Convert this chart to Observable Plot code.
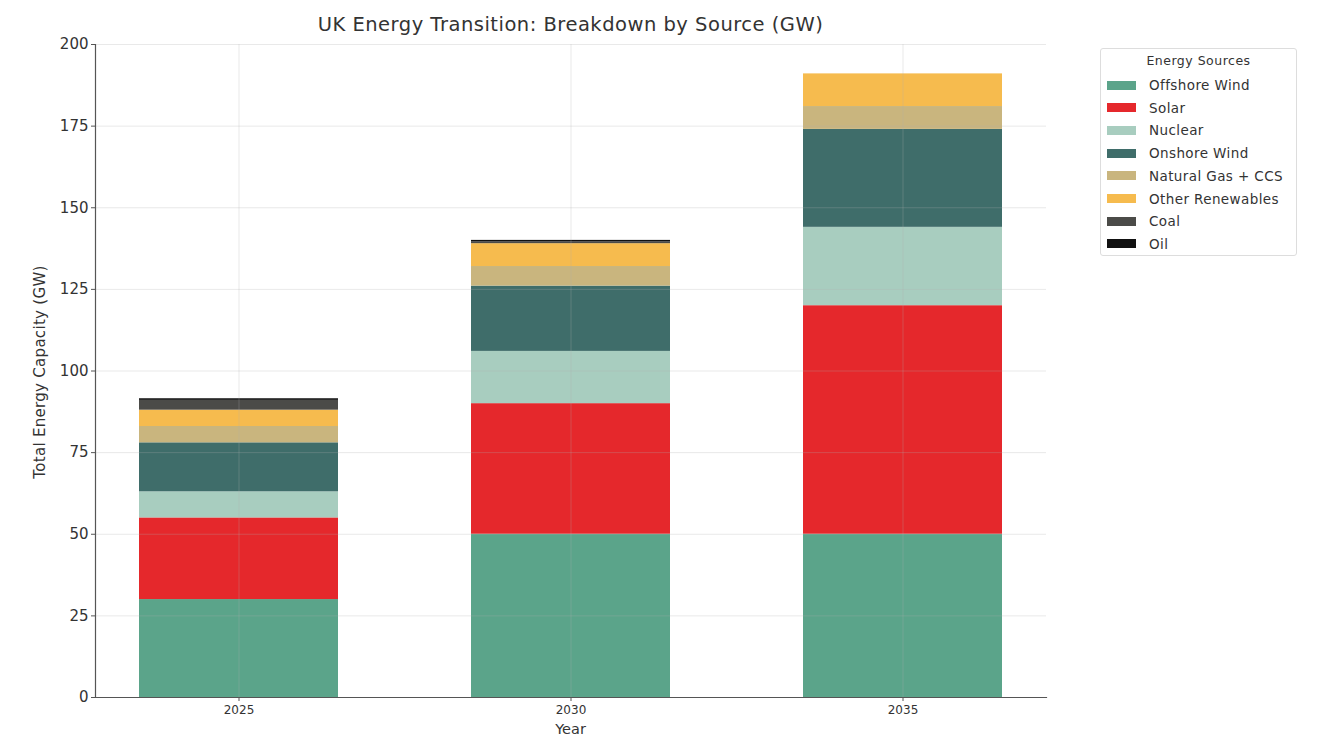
<!DOCTYPE html>
<html><head><meta charset="utf-8">
<script src="https://cdn.jsdelivr.net/npm/d3@7"></script>
<script src="https://cdn.jsdelivr.net/npm/@observablehq/plot@0.6"></script>
<style>
body{margin:0;background:#fff;font-family:"DejaVu Sans",sans-serif;}
#wrap{position:relative;width:1319px;height:739px;overflow:hidden;}
#title{position:absolute;left:0;width:1141px;top:13px;text-align:center;font-size:19.5px;letter-spacing:0.5px;color:#333;}
#ylab{position:absolute;left:40px;top:372px;transform:translate(-50%,-50%) rotate(-90deg);font-size:15px;letter-spacing:0.3px;color:#333;white-space:nowrap;}
#xlab{position:absolute;left:0;width:1141px;top:721px;text-align:center;font-size:14.5px;color:#333;}
#legend{position:absolute;left:1100px;top:48px;width:197px;height:208px;border:1px solid #ddd;border-radius:3px;box-sizing:border-box;font-size:13.5px;letter-spacing:0.4px;color:#333;}
#legend .lt{position:absolute;left:0;width:100%;top:4px;text-align:center;font-size:12.5px;letter-spacing:0.5px;}
#legend .row{position:absolute;left:6px;height:18px;display:flex;align-items:center;}
#legend .sw{width:29px;height:9px;margin-right:13px;}
</style>
</head><body><div id="wrap">
<div id="title">UK Energy Transition: Breakdown by Source (GW)</div>
<div id="ylab">Total Energy Capacity (GW)</div>
<div id="xlab">Year</div>
<div id="legend"><div class="lt">Energy Sources</div></div>
</div>
<script>
const years = ["2025", "2030", "2035"];
const sources = ["Offshore Wind", "Solar", "Nuclear", "Onshore Wind", "Natural Gas + CCS", "Other Renewables", "Coal", "Oil"];
const sourceColors = ["#5ba48a", "#e5282c", "#a8cdbf", "#3f6d6a", "#c9b57e", "#f6bb4e", "#4b4b48", "#111111"];
const offshoreWind = [30, 50, 50];
const solar = [25, 40, 70];
const nuclear = [8, 16, 24];
const onshoreWind = [15, 20, 30];
const naturalGasCCS = [5, 6, 7];
const otherRenewables = [5, 7, 10];
const coal = [3, 0.5, 0];
const oil = [0.5, 0.5, 0];
const yTicks = [0, 25, 50, 75, 100, 125, 150, 175, 200];

const series = [offshoreWind, solar, nuclear, onshoreWind, naturalGasCCS, otherRenewables, coal, oil];
const data = [];
sources.forEach((s, i) => years.forEach((y, j) => data.push({year: y, source: s, value: series[i][j]})));

const chart = Plot.plot({
  width: 1319, height: 739,
  marginLeft: 95, marginRight: 273, marginTop: 44, marginBottom: 42,
  style: {fontFamily: "DejaVu Sans, sans-serif", color: "#333", background: "transparent", overflow: "visible"},
  x: {domain: years, paddingInner: 0.4, paddingOuter: 0.13, label: null},
  y: {domain: [0, 200], label: null},
  color: {domain: sources, range: sourceColors},
  marks: [
    Plot.barY(data, {x: "year", y: "value", fill: "source", order: null}),
    Plot.gridY(yTicks, {stroke: "#b0b0b0", strokeOpacity: 0.28}),
    Plot.gridX(years, {stroke: "#b0b0b0", strokeOpacity: 0.28}),
    Plot.axisY(yTicks, {tickSize: 4, tickPadding: 3, fontSize: 15, label: null, stroke: "#555"}),
    Plot.axisX(years, {tickSize: 4, tickPadding: 4, fontSize: 12, label: null, stroke: "#555"}),
    Plot.frame({anchor: "left", stroke: "#555", strokeWidth: 1.2}),
    Plot.frame({anchor: "bottom", stroke: "#555", strokeWidth: 1.2})
  ]
});
const wrap = document.getElementById("wrap");
chart.style.position = "absolute";
chart.style.left = "0";
chart.style.top = "0";
wrap.insertBefore(chart, wrap.firstChild);

const legend = document.getElementById("legend");
sources.forEach((s, i) => {
  const row = document.createElement("div");
  row.className = "row";
  row.style.top = (27 + i * 22.7) + "px";
  const sw = document.createElement("div");
  sw.className = "sw";
  sw.style.background = sourceColors[i];
  const t = document.createElement("span");
  t.textContent = s;
  row.appendChild(sw); row.appendChild(t);
  legend.appendChild(row);
});
</script>
</body></html>
